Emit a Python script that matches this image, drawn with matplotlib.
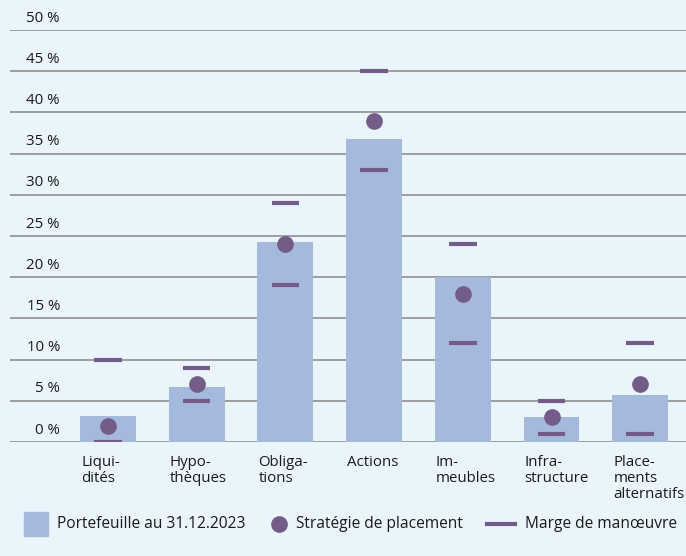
import numpy as np
import matplotlib.pyplot as plt
from matplotlib.patches import Rectangle
from matplotlib.lines import Line2D

plt.rcParams['font.family'] = ['Open Sans', 'DejaVu Sans']

categories = ['Liqui-\ndités', 'Hypo-\nthèques', 'Obliga-\ntions', 'Actions',
              'Im-\nmeubles', 'Infra-\nstructure', 'Place-\nments\nalternatifs']
portfolio = [3.2, 6.7, 24.3, 36.8, 20.0, 3.0, 5.7]
strategy = [2, 7, 24, 39, 18, 3, 7]
range_min = [0, 5, 19, 33, 12, 1, 1]
range_max = [10, 9, 29, 45, 24, 5, 12]
yticks = [0, 5, 10, 15, 20, 25, 30, 35, 40, 45, 50]

bg = '#EAF4FB'
bar_col = '#A5B9DC'
purple = '#745C89'
grid_col = '#8E8E8E'
txt = '#1a1a1a'

W, H = 686, 556
fig = plt.figure(figsize=(W / 100, H / 100), dpi=100)
fig.patch.set_facecolor(bg)

# axes box in pixels: left 10, right 686, top 30, bottom 442
ax = fig.add_axes([10 / W, 1 - 442 / H, 676 / W, (442 - 30) / H])
ax.set_facecolor(bg)
x = np.arange(len(categories))
ax.set_xlim(-1.105, 6.516)
ax.set_ylim(0, 50)

for t in yticks:
    ax.axhline(t, color=grid_col, lw=1.2, zorder=0)
    ax.annotate(f'{t} %', xy=(0, t), xycoords=('axes fraction', 'data'),
                xytext=(50, 12), textcoords='offset pixels', ha='right', va='center',
                fontsize=10.8, color=txt, annotation_clip=False)

ax.bar(x, portfolio, width=0.63, color=bar_col, zorder=2)
hw = 0.155
ax.hlines(range_min, x - hw, x + hw, color=purple, lw=3, zorder=3)
ax.hlines(range_max, x - hw, x + hw, color=purple, lw=3, zorder=3)
ax.plot(x, strategy, 'o', color=purple, ms=11, zorder=4, clip_on=False)

for i, lab in enumerate(categories):
    ax.annotate(lab, xy=(i - 0.315, 0), xycoords='data', xytext=(1, -13),
                textcoords='offset pixels', ha='left', va='top', fontsize=10.8,
                linespacing=1.08, color=txt, annotation_clip=False)

for s in ax.spines.values():
    s.set_visible(False)
ax.set_xticks([])
ax.set_yticks([])


def fx(px):
    return px / W


def fy(py):
    return 1 - py / H


ly = 524
fig.add_artist(Rectangle((fx(24), fy(536)), 24 / W, 24 / H, color=bar_col, transform=fig.transFigure))
fig.text(fx(57), fy(ly), 'Portefeuille au 31.12.2023', ha='left', va='center', fontsize=11.2, color=txt)
fig.add_artist(Line2D([fx(279)], [fy(ly)], marker='o', ms=11, color=purple, transform=fig.transFigure))
fig.text(fx(296), fy(ly), 'Stratégie de placement', ha='left', va='center', fontsize=11.2, color=txt)
fig.add_artist(Line2D([fx(487), fx(515)], [fy(ly), fy(ly)], lw=3, color=purple, transform=fig.transFigure))
fig.text(fx(525), fy(ly), 'Marge de manœuvre', ha='left', va='center', fontsize=11.2, color=txt)

fig.savefig('out.png', dpi=100, facecolor=bg)
